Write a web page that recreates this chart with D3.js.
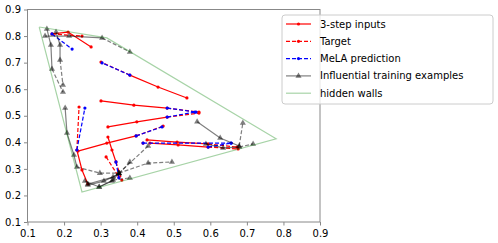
<!DOCTYPE html>
<html>
<head>
<meta charset="utf-8">
<script src="https://cdn.jsdelivr.net/npm/d3@7"></script>
<style>
body { margin: 0; background: #fff; }
svg text { font-family: "DejaVu Sans", sans-serif; }
</style>
</head>
<body>
<script>
// ticks
var xTicks = [0.1, 0.2, 0.3, 0.4, 0.5, 0.6, 0.7, 0.8, 0.9];
var yTicks = [0.1, 0.2, 0.3, 0.4, 0.5, 0.6, 0.7, 0.8, 0.9];

// test examples: 3-step inputs, target, MeLA prediction
var testInputs = [
  [[0.274, 0.759], [0.211, 0.815], [0.167, 0.808]],
  [[0.536, 0.567], [0.457, 0.608], [0.380, 0.653]],
  [[0.301, 0.556], [0.391, 0.540], [0.482, 0.529]],
  [[0.320, 0.458], [0.399, 0.477], [0.482, 0.495]],
  [[0.238, 0.367], [0.317, 0.397], [0.397, 0.424]],
  [[0.427, 0.409], [0.509, 0.401], [0.594, 0.394]],
  [[0.435, 0.397], [0.512, 0.390], [0.594, 0.382]],
  [[0.416, 0.397]],
  [[0.320, 0.420], [0.331, 0.371], [0.342, 0.326]],
  [[0.315, 0.345]],
  [[0.265, 0.243], [0.249, 0.296], [0.235, 0.371]]
];
var testTargets = [
  [0.249, 0.800], [0.301, 0.702], [0.569, 0.514], [0.569, 0.510], [0.471, 0.461],
  [0.673, 0.382], [0.676, 0.375], null, [0.358, 0.258], [0.350, 0.269], [0.241, 0.533]
];
var testPreds = [
  [0.222, 0.751], [0.304, 0.699], [0.561, 0.514], [0.558, 0.514], [0.468, 0.458],
  null, [0.657, 0.397], [0.657, 0.397], [0.350, 0.266], null, [0.257, 0.529]
];

// influential training examples: inputs (solid) then target (dashed)
var inflInputs = [
  [[0.148, 0.800], [0.214, 0.800], [0.304, 0.793]],
  [[0.153, 0.827], [0.164, 0.766], [0.167, 0.676]],
  [[0.178, 0.815], [0.189, 0.766], [0.189, 0.710]],
  [[0.203, 0.529], [0.208, 0.435], [0.227, 0.352], [0.235, 0.307]],
  [[0.257, 0.254], [0.296, 0.232], [0.334, 0.258]],
  [[0.265, 0.243], [0.334, 0.269], [0.350, 0.284]],
  [[0.265, 0.239], [0.309, 0.254], [0.350, 0.281]],
  [[0.296, 0.232], [0.331, 0.254], [0.350, 0.284]],
  [[0.564, 0.477], [0.627, 0.416], [0.679, 0.386]],
  [[0.588, 0.394], [0.635, 0.379], [0.679, 0.382]]
];
var inflTargets = [
  [[0.380, 0.740]],
  [[0.197, 0.589]],
  [[0.197, 0.616]],
  [[0.298, 0.284], [0.350, 0.284]],
  [[0.380, 0.266]],
  [[0.430, 0.386]],
  [[0.380, 0.326]],
  [[0.430, 0.322], [0.495, 0.326]],
  [[0.689, 0.473]],
  [[0.717, 0.394]]
];

// hidden walls polygon
var walls = [[0.132, 0.834], [0.317, 0.793], [0.780, 0.413], [0.249, 0.213], [0.132, 0.834]];

var W = 498, H = 243;
var margin = {left: 27.5, right: 178, top: 9.5, bottom: 21};

var svg = d3.select("body").append("svg")
  .attr("width", W)
  .attr("height", H);

var x = d3.scaleLinear().domain([0.1, 0.9]).range([margin.left, W - margin.right]);
var y = d3.scaleLinear().domain([0.1, 0.9]).range([H - margin.bottom, margin.top]);

var line = d3.line().x(function(d) { return x(d[0]); }).y(function(d) { return y(d[1]); });

var plot = svg.append("g");

// red inputs and targets
testInputs.forEach(function(pts, i) {
  if (testTargets[i]) {
    var last = pts[pts.length - 1];
    plot.append("path").attr("d", line([last, testTargets[i]]))
      .attr("fill", "none").attr("stroke", "red").attr("stroke-width", 1.2)
      .attr("stroke-dasharray", "4,2");
  }
  plot.append("path").attr("d", line(pts))
    .attr("fill", "none").attr("stroke", "red").attr("stroke-width", 1.2);
  var dots = pts.slice();
  if (testTargets[i]) dots.push(testTargets[i]);
  plot.selectAll(null).data(dots).enter().append("circle")
    .attr("cx", function(d) { return x(d[0]); })
    .attr("cy", function(d) { return y(d[1]); })
    .attr("r", 1.6).attr("fill", "red");
});

// blue predictions
testInputs.forEach(function(pts, i) {
  if (!testPreds[i]) return;
  var last = pts[pts.length - 1];
  plot.append("path").attr("d", line([last, testPreds[i]]))
    .attr("fill", "none").attr("stroke", "blue").attr("stroke-width", 1.2)
    .attr("stroke-dasharray", "4,2");
  plot.selectAll(null).data([last, testPreds[i]]).enter().append("circle")
    .attr("cx", function(d) { return x(d[0]); })
    .attr("cy", function(d) { return y(d[1]); })
    .attr("r", 1.6).attr("fill", "blue");
});

// grey influential examples
var tri = d3.symbol().type(d3.symbolTriangle).size(16);
inflInputs.forEach(function(pts, i) {
  var last = pts[pts.length - 1];
  var tgt = [last].concat(inflTargets[i]);
  plot.append("path").attr("d", line(pts))
    .attr("fill", "none").attr("stroke", "black").attr("stroke-opacity", 0.5).attr("stroke-width", 1.2);
  plot.append("path").attr("d", line(tgt))
    .attr("fill", "none").attr("stroke", "black").attr("stroke-opacity", 0.5).attr("stroke-width", 1.2)
    .attr("stroke-dasharray", "4,2");
  plot.selectAll(null).data(pts.concat(inflTargets[i])).enter().append("path")
    .attr("d", tri)
    .attr("transform", function(d) { return "translate(" + x(d[0]) + "," + y(d[1]) + ")"; })
    .attr("fill", "black").attr("fill-opacity", 0.5);
});

// walls
plot.append("path").attr("d", line(walls))
  .attr("fill", "none").attr("stroke", "green").attr("stroke-opacity", 0.35).attr("stroke-width", 1.2);

// axes
var axisColor = "#888";
var xAxis = svg.append("g").attr("transform", "translate(0," + (H - margin.bottom) + ")")
  .call(d3.axisBottom(x).tickValues(xTicks).tickFormat(d3.format(".1f")).tickSize(3.5).tickSizeOuter(0));
var yAxis = svg.append("g").attr("transform", "translate(" + margin.left + ",0)")
  .call(d3.axisLeft(y).tickValues(yTicks).tickFormat(d3.format(".1f")).tickSize(3.5).tickSizeOuter(0));
[xAxis, yAxis].forEach(function(a) {
  a.select(".domain").remove();
  a.selectAll(".tick line").attr("stroke", axisColor);
  a.selectAll(".tick text").attr("fill", "#000").style("font-size", "10px")
    .style("font-family", "DejaVu Sans");
});
xAxis.selectAll(".tick text").attr("dy", "0.85em");

// spines
var x0 = x(0.1), x1 = x(0.9), y0 = y(0.1), y1 = y(0.9);
svg.append("rect").attr("x", x0).attr("y", y1).attr("width", x1 - x0).attr("height", y0 - y1)
  .attr("fill", "none").attr("stroke", axisColor).attr("stroke-width", 1);

// legend
var legendItems = ["3-step inputs", "Target", "MeLA prediction", "Influential training examples", "hidden walls"];
var lg = svg.append("g");
lg.append("rect").attr("x", 282).attr("y", 15).attr("width", 211).attr("height", 89)
  .attr("rx", 3).attr("fill", "white").attr("fill-opacity", 0.8).attr("stroke", "#ccc").attr("stroke-width", 1);
legendItems.forEach(function(label, i) {
  var cy = 24 + i * 17.3;
  var g = lg.append("g");
  var l = g.append("line").attr("x1", 286).attr("x2", 311).attr("y1", cy).attr("y2", cy).attr("stroke-width", 1.2);
  if (i === 0) { l.attr("stroke", "red"); }
  if (i === 1) { l.attr("stroke", "red").attr("stroke-dasharray", "4,2"); }
  if (i === 2) { l.attr("stroke", "blue").attr("stroke-dasharray", "4,2"); }
  if (i === 3) { l.attr("stroke", "black").attr("stroke-opacity", 0.5); }
  if (i === 4) { l.attr("stroke", "green").attr("stroke-opacity", 0.35); }
  if (i < 3) {
    g.append("circle").attr("cx", 298.5).attr("cy", cy).attr("r", 1.6).attr("fill", i === 2 ? "blue" : "red");
  }
  if (i === 3) {
    g.append("path").attr("d", tri).attr("transform", "translate(298.5," + cy + ")")
      .attr("fill", "black").attr("fill-opacity", 0.5);
  }
  g.append("text").attr("x", 320).attr("y", cy).attr("dy", "0.35em")
    .style("font-size", "10px").attr("fill", "#000").text(label);
});
</script>
</body>
</html>
